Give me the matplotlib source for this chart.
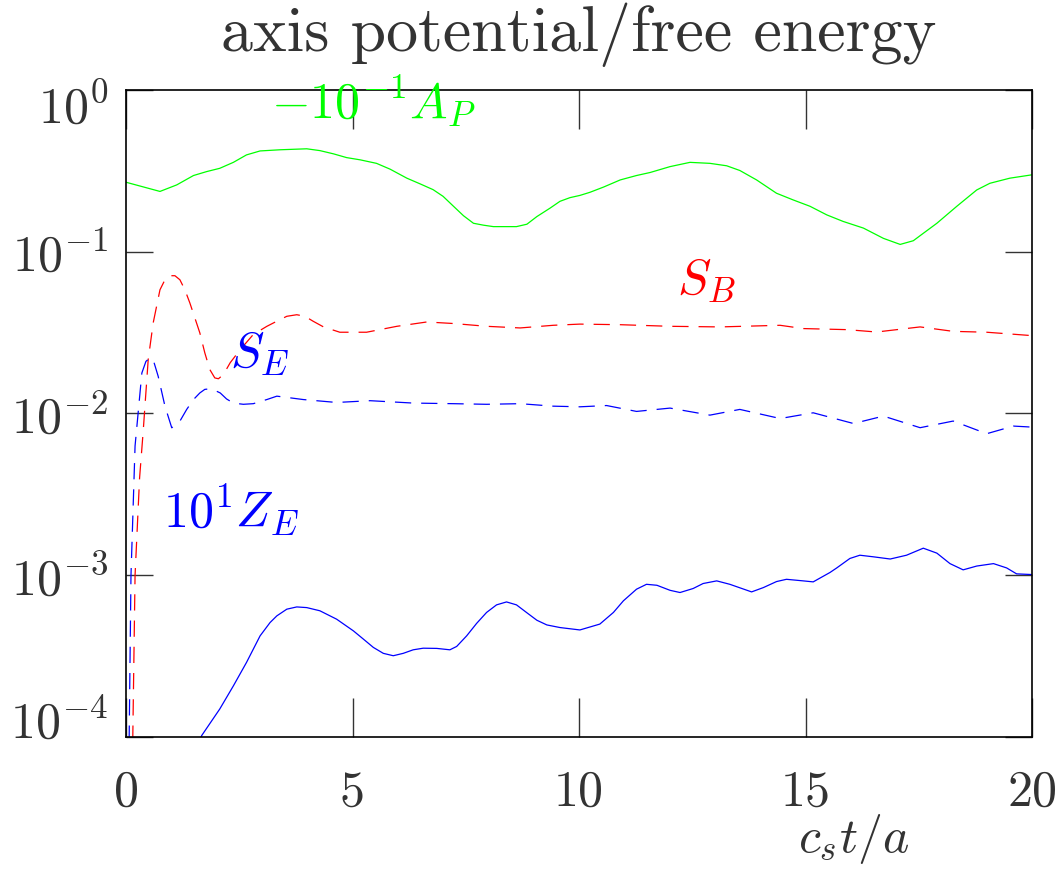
import matplotlib
matplotlib.use("Agg")
import matplotlib.pyplot as plt
from matplotlib import transforms
from matplotlib.ticker import NullLocator

plt.rcParams["mathtext.fontset"] = "cm"

# ---- data -------------------------------------------------------------
# -10^-1 A_P  (axis potential, scaled)
t_ap = [0.0, 0.75, 1.12, 1.49, 1.78, 2.07, 2.37, 2.66, 2.96, 3.40, 3.99,
        4.28, 4.58, 4.87, 5.17, 5.53, 5.83, 6.20, 6.49, 6.78, 7.00, 7.23,
        7.45, 7.67, 7.89, 8.11, 8.62, 8.85, 9.07, 9.36, 9.58, 9.80, 10.02,
        10.24, 10.54, 10.91, 11.27, 11.57, 12.01, 12.45, 12.89, 13.26,
        13.55, 13.92, 14.36, 14.73, 15.10, 15.47, 15.83, 16.28, 16.72,
        17.09, 17.38, 17.60, 17.90, 18.34, 18.78, 19.07, 19.51, 20.0]
neg_ap_scaled = [0.269, 0.236, 0.259, 0.296, 0.313, 0.328, 0.357, 0.397,
                 0.420, 0.427, 0.433, 0.422, 0.403, 0.382, 0.370, 0.352,
                 0.324, 0.285, 0.263, 0.242, 0.220, 0.191, 0.167, 0.150,
                 0.146, 0.143, 0.143, 0.148, 0.165, 0.186, 0.205, 0.216,
                 0.223, 0.233, 0.251, 0.278, 0.296, 0.309, 0.336, 0.357,
                 0.352, 0.340, 0.318, 0.278, 0.230, 0.209, 0.191, 0.169,
                 0.154, 0.140, 0.121, 0.111, 0.117, 0.130, 0.150, 0.191,
                 0.241, 0.265, 0.285, 0.299]

# S_B  (free energy, magnetic part)
t_sb = [0.0, 0.15, 0.20, 0.30, 0.38, 0.49, 0.60, 0.75, 0.86, 0.97, 1.08,
        1.19, 1.30, 1.41, 1.52, 1.63, 1.74, 1.85, 1.96, 2.04, 2.15, 2.30,
        2.52, 2.81, 3.11, 3.33, 3.55, 3.77, 3.95, 4.13, 4.36, 4.72, 5.31,
        5.98, 6.64, 7.23, 7.96, 8.70, 9.43, 10.02, 10.91, 12.01, 13.11,
        14.44, 14.95, 15.91, 16.57, 17.53, 18.26, 19.00, 20.0]
s_b = [1e-7, 1.0e-4, 1.0e-3, 4.0e-3, 7.8e-3, 0.0215, 0.0363, 0.0582,
       0.0671, 0.0711, 0.0711, 0.0671, 0.0582, 0.0482, 0.0390, 0.0315,
       0.0237, 0.0187, 0.0166, 0.0164, 0.0174, 0.0206, 0.0248, 0.0308,
       0.0346, 0.0372, 0.0399, 0.0408, 0.0399, 0.0372, 0.0343, 0.0318,
       0.0318, 0.0346, 0.0368, 0.0360, 0.0346, 0.0338, 0.0351, 0.0357,
       0.0354, 0.0346, 0.0343, 0.0351, 0.0335, 0.0330, 0.0319, 0.0343,
       0.0322, 0.0318, 0.0303]

# S_E  (free energy, electrostatic part)
t_se = [0.0, 0.07, 0.11, 0.20, 0.35, 0.44, 0.53, 0.60, 0.71, 0.86, 1.01,
        1.19, 1.34, 1.49, 1.63, 1.74, 1.85, 1.96, 2.08, 2.22, 2.37, 2.59,
        2.81, 3.11, 3.33, 3.62, 3.91, 4.65, 5.39, 6.34, 7.23, 7.96, 8.70,
        9.43, 10.02, 10.61, 11.27, 12.01, 12.89, 13.55, 14.44, 15.17,
        16.06, 16.72, 17.53, 18.26, 19.00, 19.59, 20.0]
s_e = [1e-7, 1.0e-4, 1.0e-3, 6.3e-3, 0.0178, 0.0210, 0.0221, 0.0215,
       0.0170, 0.0111, 0.00816, 0.00897, 0.0106, 0.0122, 0.0134, 0.0141,
       0.0142, 0.0139, 0.0134, 0.0123, 0.0116, 0.0114, 0.0115, 0.0122,
       0.0128, 0.0125, 0.0122, 0.0117, 0.0120, 0.0116, 0.0115, 0.0114,
       0.0115, 0.0111, 0.0110, 0.0112, 0.0103, 0.0108, 0.00977, 0.0106,
       0.00931, 0.0101, 0.00867, 0.00964, 0.00817, 0.00898, 0.00750,
       0.00836, 0.00824]

# 10^1 Z_E  (zonal field energy, scaled)
t_ze = [0.0, 1.0, 1.67, 2.07, 2.37, 2.66, 2.96, 3.18, 3.33, 3.55, 3.77,
        3.99, 4.28, 4.65, 5.02, 5.24, 5.46, 5.68, 5.90, 6.12, 6.34, 6.56,
        6.86, 7.15, 7.30, 7.52, 7.74, 7.96, 8.18, 8.40, 8.62, 8.84, 9.07,
        9.29, 9.58, 10.02, 10.46, 10.76, 10.98, 11.27, 11.49, 11.72,
        12.01, 12.23, 12.52, 12.74, 13.04, 13.33, 13.81, 14.07, 14.36,
        14.58, 14.95, 15.17, 15.54, 15.69, 15.98, 16.20, 16.50, 16.87,
        17.23, 17.60, 17.90, 18.19, 18.48, 18.78, 19.15, 19.44, 19.66,
        20.0]
ze_x10 = [5e-6, 3.5e-5, 1.02e-4, 1.49e-4, 2.07e-4, 2.89e-4, 4.22e-4,
          5.10e-4, 5.61e-4, 6.17e-4, 6.37e-4, 6.31e-4, 6.03e-4, 5.35e-4,
          4.53e-4, 4.03e-4, 3.58e-4, 3.29e-4, 3.18e-4, 3.29e-4, 3.46e-4,
          3.54e-4, 3.53e-4, 3.46e-4, 3.63e-4, 4.22e-4, 5.04e-4, 5.89e-4,
          6.56e-4, 6.84e-4, 6.56e-4, 5.89e-4, 5.27e-4, 4.93e-4, 4.75e-4,
          4.59e-4, 4.99e-4, 5.89e-4, 6.95e-4, 8.20e-4, 8.79e-4, 8.67e-4,
          8.07e-4, 7.82e-4, 8.28e-4, 8.89e-4, 9.23e-4, 8.79e-4, 7.89e-4,
          8.39e-4, 9.14e-4, 9.44e-4, 9.23e-4, 9.10e-4, 1.04e-3, 1.11e-3,
          1.27e-3, 1.33e-3, 1.30e-3, 1.26e-3, 1.33e-3, 1.47e-3, 1.37e-3,
          1.18e-3, 1.08e-3, 1.14e-3, 1.18e-3, 1.11e-3, 1.02e-3, 1.01e-3]

x_ticks = [0, 5, 10, 15, 20]
x_tick_labels = ["0", "5", "10", "15", "20"]
y_ticks = [1.0, 1e-1, 1e-2, 1e-3, 1e-4]
y_tick_labels = [r"$10^{0}$", r"$10^{-1}$", r"$10^{-2}$", r"$10^{-3}$",
                 r"$10^{-4}$"]

GREEN = "#00ff00"
RED = "#ff0000"
BLUE = "#0000ff"
INK = "#333333"
FS = 36
LW = 0.9
DASH = (13, 8)

# ---- figure -----------------------------------------------------------
fig = plt.figure(figsize=(10.62, 8.72), dpi=100)
ax = fig.add_axes([126 / 1062, 135 / 872, 906 / 1062, 647 / 872])
ax.set_yscale("log")
ax.set_xlim(0, 20)
ax.set_ylim(1e-4, 1.0)

ax.plot(t_ap, neg_ap_scaled, color=GREEN, lw=LW)
ax.plot(t_sb, s_b, color=RED, lw=LW, dashes=DASH)
ax.plot(t_se, s_e, color=BLUE, lw=LW, dashes=DASH)
ax.plot(t_ze, ze_x10, color=BLUE, lw=LW)

for sp in ax.spines.values():
    sp.set_linewidth(1.2)
    sp.set_color("black")

ax.set_xticks(x_ticks)
ax.set_xticklabels(x_tick_labels, fontfamily="cmr10", fontsize=FS,
                   color=INK)
ax.tick_params(axis="x", which="major", direction="in", length=28,
               width=1.0, top=True, pad=24, color="#333333")
ax.set_yticks(y_ticks)
ax.set_yticklabels([""] * len(y_ticks))
ax.yaxis.set_minor_locator(NullLocator())
ax.tick_params(axis="y", which="major", direction="in", length=19.5,
               width=1.0, right=True, color="#333333")

# decade labels, kept inside the vertical extent of the frame
baseline_drop_px = [33, 19, 20, 20, 1]
for val, lab, drop in zip(y_ticks, y_tick_labels, baseline_drop_px):
    tr = transforms.blended_transform_factory(ax.transAxes, ax.transData) + \
        transforms.ScaledTranslation(-18 / 100, -drop / 100,
                                     fig.dpi_scale_trans)
    ax.text(0, val, lab, transform=tr, ha="right", va="baseline",
            fontsize=FS, color=INK)

ax.set_title("axis potential/free energy", fontfamily="cmr10",
             fontsize=46, pad=28, color=INK)
ax.set_xlabel(r"$c_st/a$", fontsize=FS, color=INK)
ax.xaxis.set_label_coords(0.803, -0.116)

# curve labels
ax.text(3.20, 0.672, r"$-10^{-1}A_P$", color=GREEN, fontsize=FS,
        va="baseline")
ax.text(12.16, 0.0543, r"$S_B$", color=RED, fontsize=FS, va="baseline")
ax.text(2.30, 0.0195, r"$S_E$", color=BLUE, fontsize=FS, va="baseline")
ax.text(0.82, 0.00198, r"$10^1Z_E$", color=BLUE, fontsize=FS,
        va="baseline")

fig.savefig("out.png", dpi=100)
